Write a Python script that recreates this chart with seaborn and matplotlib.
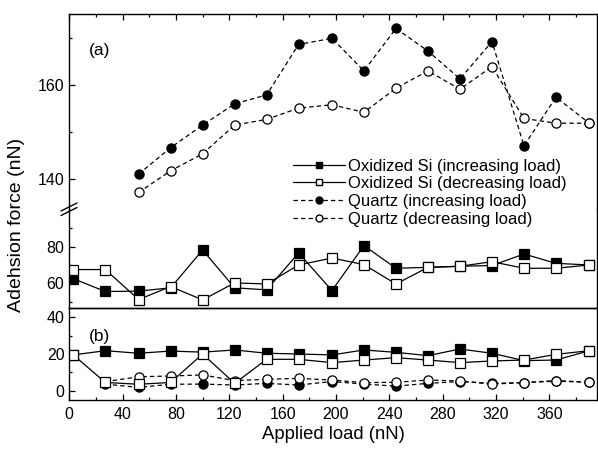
import matplotlib
matplotlib.use("Agg")
import matplotlib.pyplot as plt
from matplotlib.lines import Line2D
from matplotlib.ticker import MultipleLocator, FixedLocator
import seaborn as sns
import numpy as np

sns.set_style("ticks")
plt.rcParams["font.family"] = ["Liberation Sans", "DejaVu Sans"]
plt.rcParams["text.color"] = "black"
plt.rcParams["axes.labelcolor"] = "black"

# ---------------- data ----------------
load_all = [3, 27, 52, 76, 100, 124, 148, 172, 197, 221, 245, 269, 293, 317, 341, 365, 390]
load_qa = [52, 76, 100, 124, 148, 172, 197, 221, 245, 269, 293, 317, 341, 365, 390]
load_qb = [27, 52, 76, 100, 124, 148, 172, 197, 221, 245, 269, 293, 317, 341, 365, 390]

# panel (a), upper part: quartz
quartz_a_inc = [141.1, 146.7, 151.5, 156.0, 157.9, 168.6, 169.9, 163.0, 172.0, 167.2, 161.3, 169.2, 147.1, 157.4, 151.9]
quartz_a_dec = [137.2, 141.8, 145.4, 151.5, 152.7, 155.1, 155.8, 154.2, 159.3, 163.0, 159.1, 163.9, 152.9, 151.9, 151.9]
# panel (a), lower part: oxidized Si
si_a_inc = [62.5, 55.5, 55.7, 57.5, 78.2, 57.5, 56.4, 76.6, 56.0, 80.6, 68.2, 68.7, 69.3, 69.7, 76.0, 70.9, 70.0]
si_a_dec = [67.5, 67.5, 51.1, 58.2, 50.9, 60.2, 59.6, 70.0, 73.8, 70.2, 59.6, 68.7, 69.3, 71.8, 68.2, 68.2, 70.0]
# panel (b)
si_b_inc = [19.5, 21.8, 20.4, 21.6, 21.0, 22.2, 20.4, 20.0, 19.5, 22.2, 20.9, 19.1, 22.7, 20.4, 16.4, 16.7, 21.8]
si_b_dec = [19.5, 4.5, 3.5, 4.5, 20.0, 4.0, 17.1, 17.1, 15.3, 16.7, 18.0, 16.7, 15.3, 16.2, 16.7, 19.8, 21.8]
quartz_b_inc = [3.6, 1.8, 3.5, 3.6, 3.1, 4.0, 3.1, 5.0, 3.6, 2.5, 4.0, 5.0, 4.0, 4.4, 5.2, 4.6]
quartz_b_dec = [4.9, 7.6, 8.0, 8.6, 5.5, 6.2, 6.7, 5.8, 4.4, 4.6, 5.8, 5.3, 3.6, 4.4, 5.5, 4.6]

labels = ["Oxidized Si (increasing load)", "Oxidized Si (decreasing load)",
          "Quartz (increasing load)", "Quartz (decreasing load)"]

# ---------------- layout ----------------
FW, FH = 598, 453
fig = plt.figure(figsize=(FW / 100, FH / 100), dpi=100)
L = 69.3 / FW
W = (597.3 - 69.3) / FW


def rect(top_px, bot_px):
    return [L, 1 - bot_px / FH, W, (bot_px - top_px) / FH]


ax_top = fig.add_axes(rect(14, 208.5))
ax_mid = fig.add_axes(rect(208.5, 308.3))
ax_b = fig.add_axes(rect(308.3, 400))
for a in (ax_top, ax_mid, ax_b):
    a.set_facecolor("none")

LW = 0.9
MS = 6.6
dash = (0, (3.5, 2.5))
sq_style = dict(color="black", linestyle="-", lw=LW, marker="s", markersize=MS,
                markeredgecolor="black", markeredgewidth=0.9)
ci_style = dict(color="black", linestyle=dash, lw=LW, marker="o", markersize=MS,
                markeredgecolor="black", markeredgewidth=0.9)


def draw(ax, x, y, style, filled):
    sns.lineplot(x=x, y=y, ax=ax, sort=False, estimator=None,
                 markerfacecolor="black" if filled else "white", **style)


draw(ax_top, load_qa, quartz_a_inc, ci_style, True)
draw(ax_top, load_qa, quartz_a_dec, ci_style, False)

draw(ax_mid, load_all, si_a_inc, sq_style, True)
draw(ax_mid, load_all, si_a_dec, sq_style, False)

draw(ax_b, load_qb, quartz_b_inc, ci_style, True)
draw(ax_b, load_qb, quartz_b_dec, ci_style, False)
draw(ax_b, load_all, si_b_inc, sq_style, True)
draw(ax_b, load_all, si_b_dec, sq_style, False)

# limits
for a in (ax_top, ax_mid, ax_b):
    a.set_xlim(0, 396)
    a.xaxis.set_major_locator(MultipleLocator(40))
    a.xaxis.set_minor_locator(MultipleLocator(20))
    a.set_xlabel("")
    a.set_ylabel("")
    for s in a.spines.values():
        s.set_linewidth(1.0)
        s.set_color("black")
    a.tick_params(which="both", direction="in", colors="black", labelsize=11.5, width=0.9)
    a.tick_params(which="major", length=4.5)
    a.tick_params(which="minor", length=2.5)

ax_top.set_ylim(133.8, 175.06)
ax_top.yaxis.set_major_locator(FixedLocator([140, 160]))
ax_top.yaxis.set_minor_locator(FixedLocator([150, 170]))
ax_top.spines["bottom"].set_visible(False)
ax_top.tick_params(axis="x", which="both", bottom=False, top=True, labelbottom=False)

ax_mid.set_ylim(46.3, 100.9)
ax_mid.yaxis.set_major_locator(FixedLocator([60, 80]))
ax_mid.yaxis.set_minor_locator(FixedLocator([50, 70, 90]))
ax_mid.spines["top"].set_visible(False)
ax_mid.tick_params(axis="x", which="both", bottom=False, top=False, labelbottom=False)

ax_b.set_ylim(-5.07, 44.9)
ax_b.yaxis.set_major_locator(FixedLocator([0, 20, 40]))
ax_b.yaxis.set_minor_locator(FixedLocator([10, 30]))
ax_b.tick_params(axis="x", which="both", bottom=True, top=False, labelbottom=True)
ax_b.tick_params(axis="x", pad=5)

ax_b.set_xlabel("Applied load (nN)", fontsize=13.3, labelpad=3, color="black")
fig.text(17 / FW, 1 - 225 / FH, "Adehsion force (nN)", rotation=90,
         fontsize=14, ha="center", va="center", color="black")

fig.text(100 / FW, 1 - 50 / FH, "(a)", fontsize=12.5, ha="center", va="center", color="black")
fig.text(100 / FW, 1 - 337 / FH, "(b)", fontsize=12.5, ha="center", va="center", color="black")

# break marks on left spine
for dy in (0, 4.5):
    fig.add_artist(Line2D([61 / FW, 77 / FW], [1 - (211 + dy) / FH, 1 - (203 + dy) / FH],
                          color="black", lw=1.0))

# legend
handles = [
    Line2D([], [], color="black", lw=LW, ls="-", marker="s", markersize=5, markerfacecolor="black", markeredgecolor="black"),
    Line2D([], [], color="black", lw=LW, ls="-", marker="s", markersize=5, markerfacecolor="white", markeredgecolor="black"),
    Line2D([], [], color="black", lw=LW, ls=dash, marker="o", markersize=5, markerfacecolor="black", markeredgecolor="black"),
    Line2D([], [], color="black", lw=LW, ls=dash, marker="o", markersize=5, markerfacecolor="white", markeredgecolor="black"),
]
leg = fig.legend(handles, labels, loc="upper left", bbox_to_anchor=(293 / FW, 1 - 158.5 / FH),
                 frameon=False, fontsize=12, handlelength=3.1, handletextpad=0.2,
                 labelspacing=0.17, borderpad=0, borderaxespad=0)
for t in leg.get_texts():
    t.set_color("black")

fig.savefig("out.png", dpi=100)
